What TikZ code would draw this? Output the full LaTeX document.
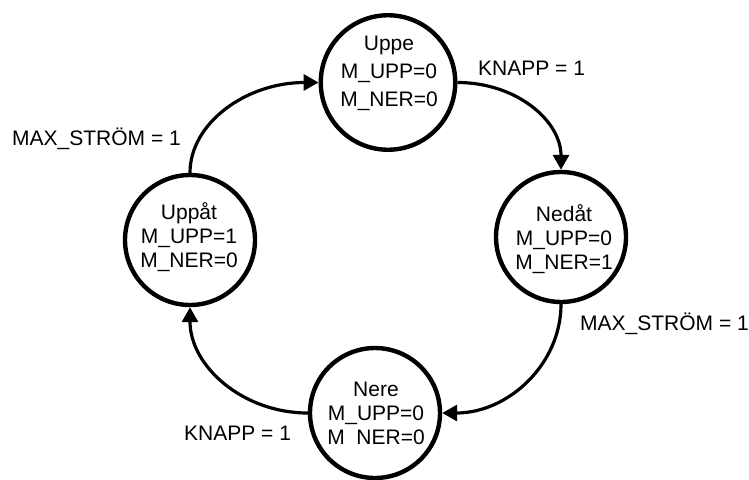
\documentclass[tikz,border=0pt]{standalone}
\usepackage{fontspec}
\setmainfont{Liberation Sans}
\usetikzlibrary{arrows.meta}
\begin{document}
\begin{tikzpicture}[x=1pt,y=-1pt,
  statebox/.style={circle,draw,line width=4.4pt,minimum size=130pt,inner sep=0pt},
  statetext/.style={align=center,inner sep=0pt,font=\fontsize{21}{24}\selectfont},
  lbl/.style={anchor=base west,inner sep=0pt,font=\fontsize{21}{24}\selectfont},
  trans/.style={line width=3.2pt,-{Triangle[length=15pt,width=16pt]}}]
\path[use as bounding box] (0,0) rectangle (749,479);

\node[statebox, minimum size=134.5pt] (uppe) at (388,82.5) {};
\node[statebox] (nedat) at (561,237) {};
\node[statebox] (nere) at (375,413) {};
\node[statebox] (uppat) at (190,240) {};

\node[statetext, font=\fontsize{21}{28}\selectfont] (uppeT) at (389,73.5) {Uppe\\M\_UPP=0\\M\_NER=0};
\node[statetext] (nedatT) at (564,239) {Nedåt\\M\_UPP=0\\M\_NER=1};
\node[statetext] (nereT) at (376,413) {Nere\\M\_UPP=0\\M\hspace{0.556em}NER=0};
\node[statetext] (uppatT) at (189,237) {Uppåt\\M\_UPP=1\\M\_NER=0};

\node[lbl] (k1) at (478,75) {KNAPP = 1};
\node[lbl] (m1) at (12,145) {MAX\_STRÖM = 1};
\node[lbl] (m2) at (580,330) {MAX\_STRÖM = 1};
\node[lbl] (k2) at (184,440) {KNAPP = 1};

\draw[trans] (uppe.east) .. controls +(59,0) and +(0,-49) .. (nedat.north);
\draw[trans] (nedat.south) .. controls +(0,60) and +(66,0) .. (nere.east);
\draw[trans] (nere.west) .. controls +(-65,0) and +(0,59) .. (uppat.south);
\draw[trans] (uppat.north) .. controls +(0,-50) and +(-72,0) .. (uppe.west);
\end{tikzpicture}
\end{document}
